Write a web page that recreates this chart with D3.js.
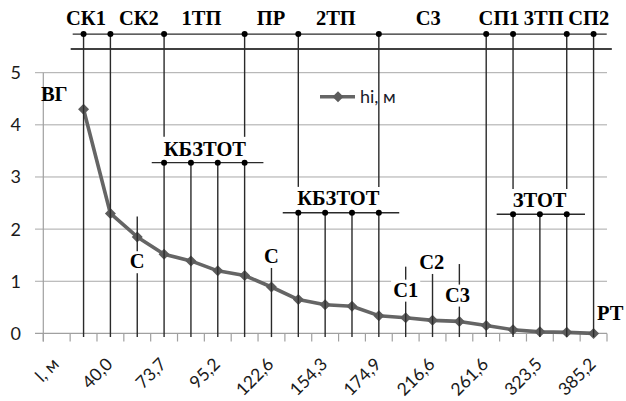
<!DOCTYPE html>
<html>
<head>
<meta charset="utf-8">
<script src="https://cdn.jsdelivr.net/npm/d3@7"></script>
<style>
body{margin:0;background:#fff}
svg{display:block}
</style>
</head>
<body>
<svg id="chart"></svg>
<script>
// categories 0..20, label shown on every second one
var tickLabels = ["l, м","40,0","73,7","95,2","122,6","154,3","174,9","216,6","261,6","323,5","385,2"];
var hi = [null,4.30,2.30,1.85,1.52,1.39,1.20,1.11,0.89,0.65,0.55,0.52,0.34,0.30,0.25,0.23,0.15,0.07,0.03,0.02,0.0];
var yTicks = [0,1,2,3,4,5];

// top scheme: stations on the upper rail, in category units / value units
var topCats = [1,2,4,7,9,12,16,17,19,20];
var topEnds = [-0.07,-0.07,3.77,3.77,2.81,2.81,-0.07,2.77,2.77,-0.07];
var topNames = ["СК1","СК2","1ТП","ПР","2ТП","С3","СП1","3ТП","СП2"];
var topNamePos = [1.09,3.06,5.39,7.98,10.4,13.84,16.48,18.14,19.82];

// brackets with dots
var brNames = ["КБЗТОТ","КБЗТОТ","ЗТОТ"];
var brCats = [[4,5,6,7],[9,10,11,12],[17,18,19]];
var brLevel = [3.275,2.315,2.285];
var brFrom = [3.54,8.42,16.39];
var brTo = [7.70,12.76,19.68];
var brNameX = [5.52,10.49,17.99];
var brNameY = [3.41,2.46,2.43];

// single "С" marks
var cNames = ["С","С","С1","С2","С3"];
var cCats = [3,8,13,14,15];
var cTop = [2.24,1.255,1.28,1.14,1.33];
var cNameX = [3,8,13.0,13.97,14.93];
var cNameY = [1.25,1.345,0.705,1.23,0.61];
var cBox = [true,false,true,false,true];

var width = 626, height = 401;
var svg = d3.select("#chart").attr("width", width).attr("height", height);

var x = d3.scaleLinear().domain([-0.5, 20.5]).range([43.3, 607]);
var y = d3.scaleLinear().domain([0, 5]).range([333.4, 72.7]);
var bottom = -0.07;

// gridlines
svg.selectAll(".grid").data(yTicks.slice(1)).enter().append("line")
    .attr("x1", 35).attr("x2", x(20.5))
    .attr("y1", function(d){return y(d)}).attr("y2", function(d){return y(d)})
    .attr("stroke", "#a8a8a8").attr("stroke-width", 1);

// axes
svg.append("line").attr("x1", 35).attr("x2", x(20.5)).attr("y1", y(0)).attr("y2", y(0))
    .attr("stroke", "#a0a0a0").attr("stroke-width", 1.2);
svg.append("line").attr("x1", x(-0.5)).attr("x2", x(-0.5)).attr("y1", y(5)).attr("y2", 341.5)
    .attr("stroke", "#a0a0a0").attr("stroke-width", 1.2);
svg.selectAll(".xtick").data(d3.range(22)).enter().append("line")
    .attr("x1", function(d){return x(d - 0.5)}).attr("x2", function(d){return x(d - 0.5)})
    .attr("y1", y(0)).attr("y2", 341.5)
    .attr("stroke", "#a0a0a0").attr("stroke-width", 1.2);

svg.selectAll(".ylab").data(yTicks).enter().append("text")
    .attr("x", 21).attr("y", function(d){return y(d) + 6.5})
    .attr("text-anchor", "end")
    .style("font-family", "Lato, 'Open Sans', sans-serif").style("font-size", "18px")
    .attr("fill", "#1a1a1a")
    .text(function(d){return d});

svg.selectAll(".xlab").data(tickLabels).enter().append("text")
    .attr("transform", function(d, i){return "translate(" + (x(i * 2) - 1) + ",361) rotate(-45)"})
    .attr("text-anchor", "end")
    .attr("dy", "0.35em")
    .style("font-family", "Lato, 'Open Sans', sans-serif").style("font-size", "17.5px")
    .attr("fill", "#1a1a1a")
    .text(function(d){return d});

// series
var pts = hi.map(function(v, i){return {i: i, v: v}}).filter(function(d){return d.v !== null});
var linegen = d3.line()
    .x(function(d){return x(d.i)})
    .y(function(d){return y(d.v)});
svg.append("path").datum(pts).attr("d", linegen)
    .attr("fill", "none").attr("stroke", "#656565").attr("stroke-width", 3.6)
    .attr("stroke-linejoin", "round");
var diamond = "M0,-5.5L5.5,0L0,5.5L-5.5,0Z";
svg.selectAll(".pt").data(pts).enter().append("path")
    .attr("d", diamond)
    .attr("transform", function(d){return "translate(" + x(d.i) + "," + y(d.v) + ")"})
    .attr("fill", "#5c5c5c");

// legend
svg.append("rect").attr("x", 315).attr("y", 82).attr("width", 105).attr("height", 28).attr("fill", "#fff");
svg.append("line").attr("x1", 320).attr("x2", 355).attr("y1", 96.7).attr("y2", 96.7)
    .attr("stroke", "#656565").attr("stroke-width", 3.6);
svg.append("path").attr("d", diamond).attr("transform", "translate(338,96.7)").attr("fill", "#5c5c5c");
svg.append("text").attr("x", 360).attr("y", 103)
    .style("font-family", "Lato, 'Open Sans', sans-serif").style("font-size", "18px")
    .attr("fill", "#1a1a2a").text("hi, м");

var serif = function(sel){
    return sel.style("font-family", "'Liberation Serif', 'Times New Roman', serif")
        .style("font-size", "20.5px").style("font-weight", "bold").attr("fill", "#000");
};
var ink = "#2a2a2a";

// upper rails
svg.append("line").attr("x1", x(0.595)).attr("x2", x(20.49)).attr("y1", y(5.74)).attr("y2", y(5.74))
    .attr("stroke", ink).attr("stroke-width", 1.4);
svg.append("line").attr("x1", x(0.52)).attr("x2", x(20.68)).attr("y1", y(5.455)).attr("y2", y(5.455))
    .attr("stroke", "#000").attr("stroke-width", 1.4);
svg.selectAll(".topv").data(topCats).enter().append("line")
    .attr("x1", function(d){return x(d)}).attr("x2", function(d){return x(d)})
    .attr("y1", y(5.74)).attr("y2", function(d, i){return y(topEnds[i])})
    .attr("stroke", ink).attr("stroke-width", 1.4);
svg.selectAll(".topdot").data(topCats).enter().append("circle")
    .attr("cx", function(d){return x(d)}).attr("cy", y(5.74)).attr("r", 3).attr("fill", "#000");
serif(svg.selectAll(".topname").data(topNames).enter().append("text")
    .attr("x", function(d, i){return x(topNamePos[i])}).attr("y", y(5.92))
    .attr("text-anchor", "middle").text(function(d){return d}));

// brackets
brNames.forEach(function(name, k){
    svg.append("line").attr("x1", x(brFrom[k])).attr("x2", x(brTo[k]))
        .attr("y1", y(brLevel[k])).attr("y2", y(brLevel[k]))
        .attr("stroke", ink).attr("stroke-width", 1.4);
    svg.selectAll(".brv" + k).data(brCats[k]).enter().append("line")
        .attr("x1", function(d){return x(d)}).attr("x2", function(d){return x(d)})
        .attr("y1", y(brLevel[k])).attr("y2", y(bottom))
        .attr("stroke", ink).attr("stroke-width", 1.4);
    svg.selectAll(".brd" + k).data(brCats[k]).enter().append("circle")
        .attr("cx", function(d){return x(d)}).attr("cy", y(brLevel[k])).attr("r", 3).attr("fill", "#000");
    serif(svg.append("text").attr("x", x(brNameX[k])).attr("y", y(brNameY[k]))
        .attr("text-anchor", "middle").text(name));
});

// "С" marks
cNames.forEach(function(name, k){
    svg.append("line").attr("x1", x(cCats[k])).attr("x2", x(cCats[k]))
        .attr("y1", y(cTop[k])).attr("y2", y(bottom))
        .attr("stroke", ink).attr("stroke-width", 1.4);
    var t = svg.append("text").attr("x", x(cNameX[k])).attr("y", y(cNameY[k]))
        .attr("text-anchor", "middle").text(name);
    serif(t);
    if (cBox[k]) {
        var b = t.node().getBBox();
        svg.insert("rect", function(){return t.node()})
            .attr("x", b.x - 2).attr("y", b.y + 1).attr("width", b.width + 4).attr("height", b.height)
            .attr("fill", "#fff");
    }
});

serif(svg.append("text").attr("x", x(-0.09)).attr("y", y(4.458)).attr("text-anchor", "middle").text("ВГ"));
serif(svg.append("text").attr("x", x(20.62)).attr("y", y(0.257)).attr("text-anchor", "middle").text("РТ"));
</script>
</body>
</html>
